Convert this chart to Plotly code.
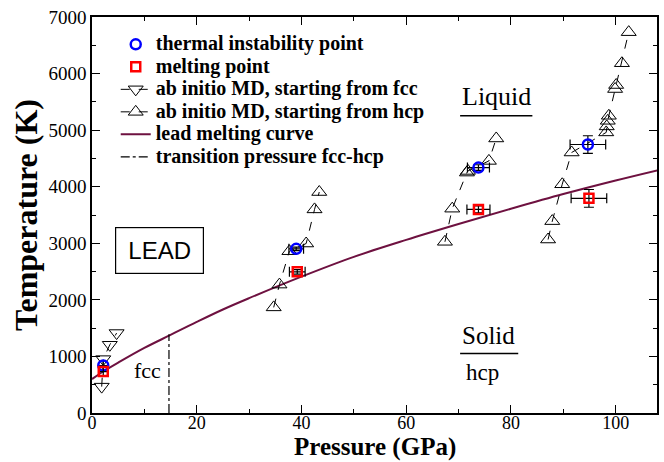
import plotly.graph_objects as go

# --- data ---
fcc_P = [1.85, 2.15, 3.4, 4.7]
fcc_T = [466, 952, 1206, 1413]

hcp1_P = [34.7, 35.8, 37.7, 40.9, 42.5, 43.4]
hcp1_T = [1867, 2270, 2860, 2996, 3599, 3906]
hcp2_P = [67.4, 68.8, 71.6, 71.8, 75.8, 77.2]
hcp2_T = [3026, 3612, 4250, 4279, 4456, 4853]
hcp3_P = [87.1, 87.9, 89.8, 91.6, 98.2, 98.3, 98.5, 98.7, 99.9, 100.1, 101.2, 102.5]
hcp3_T = [3067, 3392, 4043, 4605, 4960, 5066, 5165, 5254, 5727, 5798, 6183, 6732]

inst_P = [2.15, 39.0, 73.8, 94.7]
inst_T = [840, 2902, 4338, 4746]
inst_dP = [0.0, 1.4, 2.1, 3.4]
inst_dT = [0, 30, 50, 155]

melt_P = [2.15, 39.2, 73.8, 94.9]
melt_T = [732, 2495, 3599, 3794]
melt_dP = [0.0, 1.5, 2.2, 3.4]
melt_dT = [0, 40, 60, 157]

curve_P = [0, 2, 5, 10, 15, 20, 25, 30, 40, 50, 60, 70, 80, 90, 100, 108]
curve_T = [600, 725, 890, 1150, 1380, 1610, 1830, 2030, 2410, 2760, 3060, 3340, 3610, 3870, 4110, 4290]

trans_P = [14.7, 14.7]
trans_T = [0, 1390]

legend_names = ["thermal instability point", "melting point",
                "ab initio MD, starting from fcc", "ab initio MD, starting from hcp",
                "lead melting curve", "transition pressure fcc-hcp"]

serif = "Liberation Serif"


def lname(i):
    # rendered at 20px while the legend row height follows the 15px legend font
    return "<span style='font-size:20px'>" + legend_names[i] + "</span>"


fig = go.Figure()

# lines first (drawn underneath)
fig.add_trace(go.Scatter(x=curve_P, y=curve_T, mode="lines", name=lname(4), legendrank=5,
                         line=dict(color="#6e1140", width=2, shape="spline")))
fig.add_trace(go.Scatter(x=trans_P, y=trans_T, mode="lines", name=lname(5), legendrank=6,
                         line=dict(color="black", width=1.2, dash="dashdot")))
fig.add_trace(go.Scatter(x=fcc_P, y=fcc_T, mode="lines+markers", name=lname(2), legendrank=3,
                         line=dict(color="black", width=1, dash="dash"),
                         marker=dict(symbol="triangle-down-open", size=13, color="black", line=dict(width=1))))
hcp_style = dict(mode="lines+markers", line=dict(color="black", width=1, dash="dash"),
                 marker=dict(symbol="triangle-up-open", size=13, color="black", line=dict(width=1)))
fig.add_trace(go.Scatter(x=hcp1_P, y=hcp1_T, name=lname(3), legendgroup="hcp", legendrank=4, **hcp_style))
fig.add_trace(go.Scatter(x=hcp2_P, y=hcp2_T, name="hcp2", legendgroup="hcp", showlegend=False, **hcp_style))
fig.add_trace(go.Scatter(x=hcp3_P, y=hcp3_T, name="hcp3", legendgroup="hcp", showlegend=False, **hcp_style))
fig.add_trace(go.Scatter(x=inst_P, y=inst_T, mode="markers", name=lname(0), legendrank=1,
                         marker=dict(symbol="circle-open", size=10, color="#0000ff", line=dict(width=2.5)),
                         error_x=dict(type="data", array=inst_dP, color="black", thickness=1.2, width=5),
                         error_y=dict(type="data", array=inst_dT, color="black", thickness=1.2, width=5)))
fig.add_trace(go.Scatter(x=melt_P, y=melt_T, mode="markers", name=lname(1), legendrank=2,
                         marker=dict(symbol="square-open", size=9, color="#ff0000", line=dict(width=2.5)),
                         error_x=dict(type="data", array=melt_dP, color="black", thickness=1.2, width=5),
                         error_y=dict(type="data", array=melt_dT, color="black", thickness=1.2, width=5)))

fig.update_layout(
    width=664, height=462,
    margin=dict(l=92, r=7, t=17, b=49, autoexpand=False),
    plot_bgcolor="white", paper_bgcolor="white",
    showlegend=True,
    legend=dict(x=0.042, y=0.972, xanchor="left", yanchor="top", bgcolor="rgba(0,0,0,0)",
                font=dict(family=serif, size=15, color="black", weight="bold"),
                traceorder="normal", itemwidth=30, tracegroupgap=0),
    font=dict(family=serif, color="black"),
)
axis_common = dict(showline=True, linecolor="black", linewidth=1.5, mirror="ticks", ticks="inside",
                   ticklen=8, tickwidth=1, tickcolor="black", showgrid=False, zeroline=False,
                   automargin=False)
fig.update_xaxes(range=[0, 107.9], tick0=0, dtick=20, ticklabelstandoff=-7,
                 tickfont=dict(family=serif, size=18, color="black"),
                 minor=dict(ticks="inside", ticklen=4, dtick=10, tickcolor="black"),
                 **axis_common)
fig.update_yaxes(range=[0, 7000], tick0=0, dtick=1000,
                 tickfont=dict(family=serif, size=19, color="black"),
                 minor=dict(ticks="inside", ticklen=4, dtick=500, tickcolor="black"),
                 title=dict(text="Temperature (K)", font=dict(family=serif, size=32, weight="bold"), standoff=1),
                 **axis_common)

# x-axis title placed just under the tick labels, as in the reference
fig.add_annotation(x=0.5, y=0, xref="paper", yref="paper", yanchor="bottom", yshift=-50,
                   text="<b>Pressure (GPa)</b>", showarrow=False,
                   font=dict(family=serif, size=25, color="black"))

fig.add_annotation(x=12.9, y=2880, text="LEAD", showarrow=False, xref="x", yref="y", width=69,
                   font=dict(family="Liberation Sans", size=24, color="black"),
                   bordercolor="black", borderwidth=1.2, borderpad=9, bgcolor="white")
fig.add_annotation(x=77.2, y=5600, text="Liquid", showarrow=False,
                   font=dict(family=serif, size=26, color="black"))
fig.add_shape(type="line", x0=70.3, x1=84.1, y0=5256, y1=5256, line=dict(color="black", width=1.5))
fig.add_annotation(x=75.8, y=1370, text="Solid", showarrow=False,
                   font=dict(family=serif, size=25, color="black"))
fig.add_shape(type="line", x0=70.3, x1=81.4, y0=1051, y1=1051, line=dict(color="black", width=1.5))
fig.add_annotation(x=74.6, y=720, text="hcp", showarrow=False,
                   font=dict(family=serif, size=23, color="black"))
fig.add_annotation(x=10.6, y=752, text="fcc", showarrow=False,
                   font=dict(family=serif, size=22, color="black"))

fig.write_html("out.html")
